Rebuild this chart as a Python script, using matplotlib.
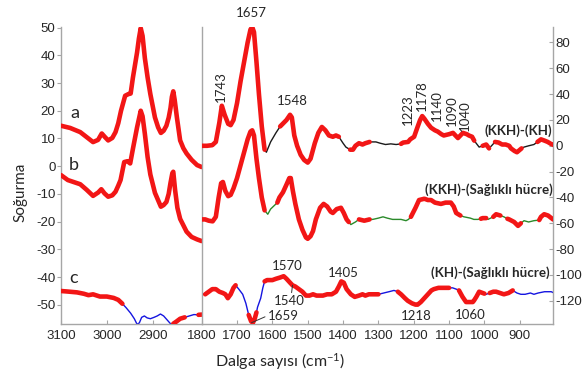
import numpy as np
import matplotlib
matplotlib.use("Agg")
import matplotlib.pyplot as plt

plt.rcParams['axes.unicode_minus'] = False
plt.rcParams['mathtext.default'] = 'regular'

# ---- data: left panel (3100-2800 cm-1), left y scale
left_x_a = np.array([3100, 3080, 3058, 3044, 3030, 3019, 3011, 3004, 2997, 2988, 2981, 2975, 2969, 2960,
                     2953, 2948, 2943, 2938, 2934, 2930, 2926, 2922, 2917, 2911, 2905, 2895, 2888, 2882,
                     2876, 2870, 2865, 2861, 2858, 2855, 2852, 2847, 2840, 2833, 2826, 2815, 2803, 2793])
left_a = np.array([14.6, 13.8, 12.3, 10.5, 8.7, 9.5, 11.8, 10.5, 9.3, 10.2, 12.3, 15.5, 20, 25.4,
                   26, 26.2, 32, 37, 41, 46, 49.8, 47, 39, 32, 26, 17.6, 14, 12,
                   12.8, 14.6, 17.5, 21, 25, 27, 24, 17.5, 9.3, 6.5, 4.6, 2.3, 0.4, -0.3])

left_x_b = np.array([3100, 3085, 3058, 3044, 3030, 3019, 3012, 3005, 2997, 2988, 2981, 2975, 2970, 2962,
                     2955, 2949, 2943, 2934, 2926, 2922, 2917, 2911, 2905, 2895, 2882, 2876, 2870, 2865,
                     2861, 2857, 2855, 2851, 2846, 2840, 2826, 2815, 2803, 2793])
left_b = np.array([-3.2, -5, -6.5, -8.5, -10.7, -9.5, -8.3, -9.8, -11, -10.5, -9.2, -7, -5, 1.5,
                   1.8, 1, 6.3, 14, 20, 18, 11.7, 3.3, -3, -9.6, -14.6, -14, -12.9, -10,
                   -6, -2.5, -2, -8.6, -15, -19, -23.6, -25.5, -26.4, -27])

left_x_c = np.array([3100, 3085, 3065, 3050, 3040, 3030, 3015, 3000, 2985, 2975, 2966, 2958, 2948, 2940,
                     2934, 2929, 2924, 2918, 2912, 2905, 2897, 2890, 2883, 2876, 2868, 2860, 2855, 2848,
                     2840, 2830, 2820, 2810, 2800, 2793])
left_c = np.array([-45, -45.2, -45.5, -46, -46.5, -46.2, -47, -47, -47.5, -48.2, -49.6, -51, -53, -55,
                   -57, -56.5, -54.5, -54, -54.7, -55, -54.5, -54, -53.3, -54, -55.5, -57, -56.8, -56,
                   -55, -54.5, -54, -53.5, -53.6, -53.5])

# ---- data: right panel (1800-800 cm-1), right y scale
right_x_a = np.array([1800, 1785, 1770, 1760, 1750, 1743, 1735, 1725, 1718, 1710, 1700, 1690, 1680, 1670,
                      1662, 1657, 1652, 1645, 1638, 1630, 1622, 1617, 1605, 1590, 1578, 1560, 1550, 1545,
                      1538, 1530, 1520, 1510, 1500, 1492, 1480, 1470, 1460, 1450, 1440, 1429, 1420, 1412,
                      1400, 1392, 1380, 1372, 1365, 1355, 1345, 1337, 1325, 1307, 1295, 1280, 1265, 1250,
                      1236, 1230, 1216, 1210, 1199, 1190, 1182, 1176, 1170, 1160, 1151, 1140, 1132, 1122,
                      1115, 1100, 1089, 1082, 1075, 1068, 1061, 1050, 1044, 1035, 1029, 1015, 1005, 995,
                      987, 980, 970, 960, 950, 940, 930, 925, 915, 908, 895, 888, 875, 860,
                      850, 840, 830, 821, 812, 803])
right_a = np.array([0, 0, 0.5, 3, 18, 31, 24, 17, 16, 20, 33, 50, 65, 80,
                    90, 92, 88, 65, 40, 15, -3, -5, 3, 10, 15, 20, 24, 22,
                    8, 0, -7, -11, -13, -10, 2, 10, 14.6, 12, 8, 7, 8, 7,
                    2, -1, -3, -3, 0, 2, 1, 2, 3, 3, 2, 1, 1.5, 1,
                    1.5, 2.5, 3, 5, 7, 14, 20, 23, 21, 17, 14, 12, 11, 9,
                    8, 9, 10, 8, 6, 8, 10, 9, 8, 7, 4, -1, 0, 1,
                    -2, 0, 3, 2.5, 1, 1, 0, -2, -4, -5, -2, -1, 0, 1,
                    3, 5, 4, 3, 1.5, 0.5])

right_x_b = np.array([1800, 1790, 1780, 1769, 1760, 1752, 1745, 1740, 1733, 1725, 1718, 1710, 1700, 1690,
                      1680, 1670, 1662, 1657, 1652, 1645, 1638, 1630, 1622, 1613, 1605, 1586, 1580, 1570,
                      1560, 1552, 1548, 1542, 1535, 1525, 1515, 1505, 1500, 1492, 1485, 1477, 1465, 1455,
                      1445, 1435, 1429, 1418, 1406, 1398, 1390, 1384, 1378, 1365, 1355, 1340, 1325, 1316,
                      1300, 1287, 1275, 1260, 1250, 1236, 1222, 1215, 1208, 1195, 1185, 1170, 1160, 1151,
                      1140, 1123, 1110, 1095, 1087, 1080, 1068, 1058, 1040, 1030, 1018, 1010, 1005, 995,
                      990, 975, 967, 955, 945, 935, 930, 916, 905, 897, 888, 875, 860, 845,
                      840, 831, 820, 806, 803])
right_b = np.array([-57, -57, -58, -58.5, -55, -40, -29, -28, -35, -39, -38, -33, -25, -15,
                    -5, 5, 11, 12, 8, -10, -25, -40, -50, -53, -49, -44, -40, -36,
                    -30, -25, -25, -35, -45, -57, -65, -71, -72, -70, -66, -57, -48, -45,
                    -47, -51, -52, -49, -48, -52, -57, -59, -61, -59, -57, -58, -57, -57,
                    -56, -55, -56, -57, -57, -57, -58, -57, -55, -48, -42, -41, -42, -42,
                    -44, -45, -44, -44, -47, -52, -54, -55, -56, -57, -57, -56.5, -56, -56,
                    -57, -55, -53, -54, -55, -56.5, -57, -59, -62, -60, -58, -59, -58, -57.5,
                    -55, -53, -54, -57, -57])

right_x_c = np.array([1800, 1790, 1780, 1770, 1760, 1750, 1740, 1733, 1726, 1718, 1710, 1704, 1695, 1684,
                      1675, 1667, 1660, 1655, 1650, 1645, 1642, 1633, 1627, 1622, 1615, 1600, 1590, 1578,
                      1568, 1560, 1550, 1543, 1535, 1525, 1515, 1505, 1495, 1485, 1475, 1465, 1457, 1445,
                      1432, 1420, 1412, 1405, 1398, 1390, 1378, 1367, 1355, 1345, 1337, 1327, 1315, 1300,
                      1285, 1270, 1256, 1245, 1236, 1225, 1217, 1205, 1195, 1189, 1180, 1170, 1160, 1150,
                      1143, 1130, 1115, 1100, 1090, 1080, 1075, 1072, 1062, 1052, 1042, 1033, 1030, 1023,
                      1015, 1005, 1000, 995, 985, 975, 967, 956, 945, 932, 920, 908, 897, 885,
                      870, 860, 848, 830, 811, 803])
right_c = np.array([-115, -115, -113, -111, -111, -113, -114, -115, -118, -115, -110, -108, -111, -115,
                    -122, -131, -136, -137, -134, -129, -125, -118, -110, -105, -104, -104, -103, -102,
                    -101, -103, -106, -108, -109, -111, -113, -116, -116, -115, -116, -116, -116, -115,
                    -115, -113, -109, -105, -106, -111, -115, -117, -116, -115, -116, -115, -115, -115,
                    -114, -113, -112, -113, -115, -118, -120, -122, -123, -123, -121, -118, -115, -112,
                    -111, -110, -110, -110, -110, -111, -111.5, -112, -117, -121, -121, -121, -120, -117,
                    -113, -114, -114.5, -115, -114, -113, -113, -114, -115, -114, -112, -114, -115, -115,
                    -114, -115, -114, -113, -113, -114])

# significant regions (red), as (high, low) wavenumber
sig_left_a = [(3100, 2793)]
sig_left_b = [(3100, 2793)]
sig_left_c = [(3100, 2966), (2855, 2826), (2806, 2793)]
sig_right_a = [(1800, 1622), (1578, 1412), (1380, 1325), (1236, 1029), (1005, 987),
               (970, 960), (950, 940), (930, 895), (850, 803)]
sig_right_b = [(1800, 1622), (1586, 1384), (1355, 1325), (1208, 1068), (1010, 995),
               (975, 955), (935, 897), (845, 803)]
sig_right_c = [(1795, 1704), (1667, 1645), (1622, 1432), (1420, 1300), (1245, 1150),
               (1143, 1100), (1072, 1030), (1023, 1000), (985, 920)]

RED = '#f21616'
GRAY = '#a6a6a6'
TXT = '#262626'
ANN_FONT = ['Lato', 'DejaVu Sans']


def sig_only(x, y, ranges):
    yy = np.full(len(y), np.nan)
    for hi, lo in ranges:
        m = (x <= hi) & (x >= lo)
        yy[m] = y[m]
    return yy


def draw(ax, x, y, color, ranges):
    ax.plot(x, y, color=color, lw=1.0, zorder=2)
    ax.plot(x, sig_only(x, y, ranges), color=RED, lw=3.3, solid_capstyle='round',
            solid_joinstyle='round', zorder=3)


fig = plt.figure(figsize=(5.88, 3.74), dpi=100)
ax1 = fig.add_axes([0.1037, 0.1337, 0.2393, 0.7941])
ax2 = fig.add_axes([0.3430, 0.1337, 0.5969, 0.7941])

draw(ax1, left_x_a, left_a, '#1a1a1a', sig_left_a)
draw(ax1, left_x_b, left_b, '#2a8a2a', sig_left_b)
draw(ax1, left_x_c, left_c, '#1515e0', sig_left_c)
draw(ax2, right_x_a, right_a, '#1a1a1a', sig_right_a)
draw(ax2, right_x_b, right_b, '#2a8a2a', sig_right_b)
draw(ax2, right_x_c, right_c, '#1515e0', sig_right_c)

ax1.set_xlim(3100, 2793)
ax1.set_ylim(-56.9, 50.2)
ax1.set_xticks([3100, 3000, 2900])
ax1.set_yticks(np.arange(-50, 51, 10))
ax2.set_xlim(1800, 807)
ax2.set_ylim(-138, 92)
ax2.set_xticks(np.arange(1800, 899, -100))
ax2.set_yticks(np.arange(-120, 81, 20))

for ax in (ax1, ax2):
    ax.spines['top'].set_visible(False)
    for s in ('left', 'right', 'bottom'):
        ax.spines[s].set_color(GRAY)
        ax.spines[s].set_linewidth(1.0)
    ax.tick_params(axis='x', direction='in', length=3, color=GRAY, labelsize=9.5,
                   labelcolor=TXT, pad=4)
ax1.spines['right'].set_visible(False)
ax1.tick_params(axis='y', direction='out', length=3, color=GRAY, labelsize=9.5,
                labelcolor=TXT, pad=1)
ax2.yaxis.tick_right()
ax2.tick_params(axis='y', direction='in', length=3, color=GRAY, labelsize=9.5,
                labelcolor=TXT, pad=2)
for ax in (ax1, ax2):
    for lab in ax.get_xticklabels() + ax.get_yticklabels():
        lab.set_family('Liberation Sans')

# curve letters
for t, xx, yy in [('a', 3069, 19.2), ('b', 3072, 0.4), ('c', 3072, -40.3)]:
    ax1.text(xx, yy, t, fontsize=13, family=ANN_FONT, color=TXT, ha='center', va='center')

# peak labels
ax2.text(1659, 103, '1657', fontsize=9.5, family=ANN_FONT, color=TXT, ha='center',
         va='center', clip_on=False)
ax2.text(1545, 35, '1548', fontsize=9.5, family=ANN_FONT, color=TXT, ha='center', va='center')
for t, xx, yy in [('1743', 1746, 46), ('1223', 1217, 27.7), ('1178', 1178, 38.5),
                  ('1140', 1135, 31), ('1090', 1093, 27), ('1040', 1056, 23)]:
    ax2.text(xx, yy, t, fontsize=9.5, family=ANN_FONT, color=TXT, rotation=90,
             ha='center', va='center')
for t, xx, yy in [('1570', 1557, -93), ('1405', 1398, -98.5), ('1218', 1193, -131.5),
                  ('1060', 1040, -131)]:
    ax2.text(xx, yy, t, fontsize=9.5, family=ANN_FONT, color=TXT, ha='center', va='center')
ax2.annotate('1540', xy=(1543, -108), xytext=(1551, -120.5), fontsize=9.5, family=ANN_FONT,
             color=TXT, ha='center', va='center',
             arrowprops=dict(arrowstyle='-', color='#333333', lw=0.7, shrinkA=0, shrinkB=0,
                             relpos=(0.55, 1.0)))
ax2.annotate('1659', xy=(1659, -137), xytext=(1613, -131.5), fontsize=9.5, family=ANN_FONT,
             color=TXT, ha='left', va='center',
             arrowprops=dict(arrowstyle='-', color='#333333', lw=0.7, shrinkA=0, shrinkB=0,
                             relpos=(0.0, 0.5)))

# difference labels
for t, xx, yy in [('(KKH)-(KH)', 808, 12), ('(KKH)-(Sağlıklı hücre)', 807, -34),
                  ('(KH)-(Sağlıklı hücre)', 816, -98)]:
    ax2.text(xx, yy, t, fontsize=9.6, family=ANN_FONT, weight='bold', color=TXT,
             ha='right', va='center', zorder=5)

fig.text(0.034, 0.487, 'Soğurma', rotation=90, fontsize=11, family=ANN_FONT, color=TXT,
         ha='center', va='center')
fig.text(0.476, 0.032, 'Dalga sayısı (cm$^{-1}$)', fontsize=11.5, family=ANN_FONT, color=TXT,
         ha='center', va='center')

fig.savefig('out.png', dpi=100)
